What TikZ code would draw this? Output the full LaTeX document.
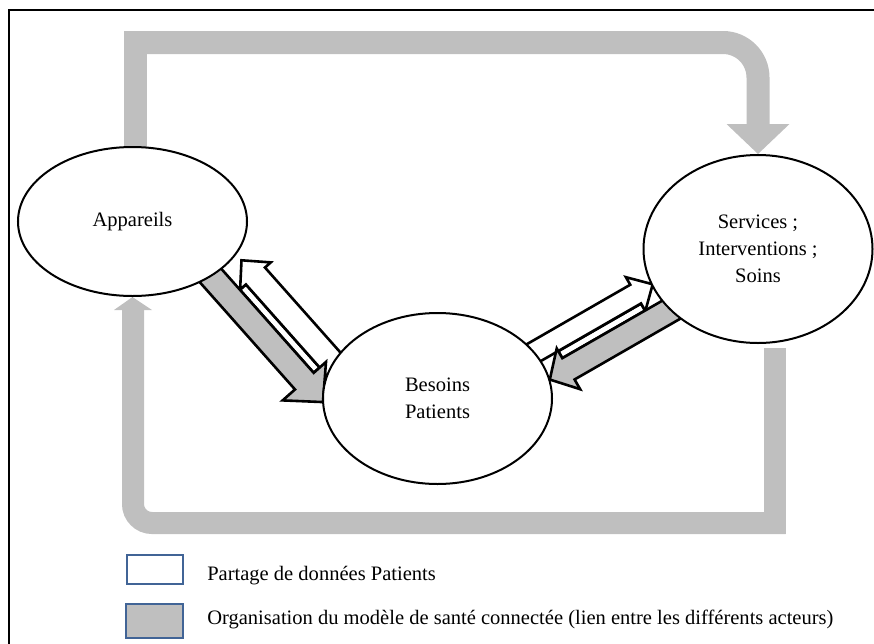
\documentclass[tikz,border=0pt]{standalone}
\usepackage{fontspec}
\setmainfont{Liberation Serif}
\usetikzlibrary{calc,shapes.geometric,backgrounds}
\definecolor{loopgray}{RGB}{191,191,191}
\definecolor{keyblue}{RGB}{65,100,150}
\tikzset{
	bubble/.style={ellipse, draw, fill=white, line width=0.5mm, inner sep=0pt, align=center},
	loopbar/.style={draw=loopgray, line width=5.75mm},
	loopbarlow/.style={draw=loopgray, line width=5.5mm},
	whitearrow/.style={draw, fill=white, line width=0.65mm},
	grayarrow/.style={draw, fill=loopgray, line width=0.65mm},
	keybox/.style={draw=keyblue, line width=0.5mm, inner sep=0pt}
}

\begin{document}
\begin{tikzpicture}[x=0.25mm, y=-0.25mm, every node/.style={font=\fontsize{14.6}{19.2}\selectfont}]
			%%%%% FRAME %%%%%
			\useasboundingbox (0,0) rectangle (874,644);
			\draw[line width=0.4mm] (874,10) -- (9,10) -- (9,644);
			
			%%%%% ACTORS %%%%%
			\node[bubble, minimum width=57.25mm, minimum height=37.25mm] (appareils) at (132.5,221.5) {Appareils};
			\node[bubble, minimum width=57.25mm, minimum height=47mm] (services) at (758,249) {Services ;\\ Interventions ;\\ Soins};
			\node[bubble, minimum width=57.25mm, minimum height=42.75mm] (besoins) at (437.5,398.5) {Besoins\\ Patients};
			
			\begin{pgfonlayer}{background}
			%%%%% BIG LOOPS %%%%%
			\draw[loopbar] ($(appareils.north)+(3,5)$) -- (135.5,31);
			\draw[loopbar, rounded corners=8.75mm] (124,42.5) -- (758,42.5) -- (758,125);
			\fill[loopgray] (726.5,124) -- (789.5,124) -- (services.north) -- cycle;
			
			\draw[loopbarlow] ($(services.south)+(16.5,4)$) -- (774.5,534);
			\draw[loopbarlow, rounded corners=4.75mm] (785.5,523) -- (133,523) -- (133,309);
			\fill[loopgray] (114,310) -- (152,310) -- (appareils.south) -- cycle;
			
			%%%%% APPAREILS - BESOINS %%%%%
			\begin{scope}[shift={(211,276)}, rotate=-48.4]
				\draw[whitearrow] (29.5,-12.5) rectangle (140.6,-20.5);
				\draw[whitearrow] (8.5,-33.25) -- (29.5,-12.75) -- (29.5,-20.5) -- (160,-20.5) -- (160,-46) -- (29.5,-46) -- (29.5,-53.75) -- cycle;
				\draw[grayarrow] (-10,12.5) -- (140.6,12.5) -- (140.6,29) -- (168.6,0) -- (140.6,-29) -- (140.6,-12.5) -- (-10,-12.5) -- cycle;
			\end{scope}
			
			%%%%% BESOINS - SERVICES %%%%%
			\begin{scope}[shift={(669,311)}, rotate=-150.1]
				\draw[whitearrow] (20.5,12.3) rectangle (116,20.3);
				\draw[whitearrow] (0.8,31.3) -- (20.5,11.8) -- (20.5,20.5) -- (150,20.5) -- (150,42.1) -- (20.5,42.1) -- (20.5,50.8) -- cycle;
				\draw[grayarrow] (-10,-12.3) -- (116,-12.3) -- (116,-23.5) -- (137.5,0) -- (116,23.5) -- (116,12.3) -- (-10,12.3) -- cycle;
			\end{scope}
			\end{pgfonlayer}
			
			%%%%% LEGEND %%%%%
			\node[keybox, fill=white, minimum width=14mm, minimum height=7.25mm] (keyshare) at (155,569.5) {};
			\node[keybox, fill=loopgray, minimum width=14.25mm, minimum height=8.5mm] (keyorga) at (154.5,621) {};
			\node[anchor=base west, inner sep=0pt] (txtshare) at (207,580) {Partage de données Patients};
			\node[anchor=base west, inner sep=0pt] (txtorga) at (207,624) {Organisation du modèle de santé connectée (lien entre les différents acteurs)};
			
\end{tikzpicture}
\end{document}
